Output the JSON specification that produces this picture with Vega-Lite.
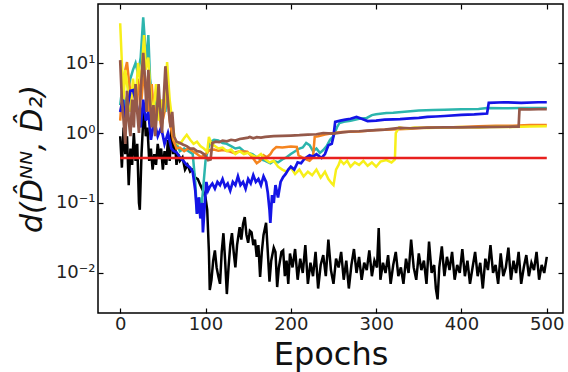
{
"$schema":"https://vega.github.io/schema/vega-lite/v6.json",
"width":465,"height":309,
"autosize":"none",
"padding":{"left":98,"top":4,"right":5,"bottom":59},
"config":{"view":{"stroke":"#000","strokeWidth":1.5},
"axis":{"domain":false,"grid":false,"tickColor":"#000","tickWidth":1.2,"tickSize":-5,"labelFont":"DejaVu Sans","labelFontSize":18,"labelColor":"#222","titleFont":"DejaVu Sans","titleFontWeight":"normal","titleColor":"#111"}},
"datasets":{"d":[
{"s":"r","e":0,"v":0.44},{"s":"r","e":500,"v":0.44},
{"s":"k","e":0,"v":0.9},{"s":"k","e":2,"v":0.32},{"s":"k","e":4,"v":1.2},{"s":"k","e":6,"v":0.5},{"s":"k","e":8,"v":0.9},{"s":"k","e":10,"v":0.18},{"s":"k","e":12,"v":0.6},{"s":"k","e":14,"v":0.35},{"s":"k","e":16,"v":1.0},{"s":"k","e":18,"v":0.4},{"s":"k","e":20,"v":0.7},{"s":"k","e":22,"v":0.1},{"s":"k","e":23,"v":0.08},{"s":"k","e":25,"v":0.5},{"s":"k","e":27,"v":1.5},{"s":"k","e":28,"v":2.6},{"s":"k","e":30,"v":0.9},{"s":"k","e":32,"v":1.2},{"s":"k","e":34,"v":0.4},{"s":"k","e":36,"v":0.6},{"s":"k","e":38,"v":0.3},{"s":"k","e":40,"v":0.5},{"s":"k","e":42,"v":0.35},{"s":"k","e":44,"v":0.7},{"s":"k","e":46,"v":0.45},{"s":"k","e":48,"v":0.6},{"s":"k","e":50,"v":0.3},{"s":"k","e":52,"v":0.55},{"s":"k","e":54,"v":0.35},{"s":"k","e":56,"v":0.8},{"s":"k","e":58,"v":0.4},{"s":"k","e":60,"v":1.2},{"s":"k","e":62,"v":0.5},{"s":"k","e":64,"v":0.8},{"s":"k","e":66,"v":0.35},{"s":"k","e":68,"v":0.5},{"s":"k","e":70,"v":0.4},{"s":"k","e":73,"v":0.45},{"s":"k","e":76,"v":0.3},{"s":"k","e":79,"v":0.35},{"s":"k","e":82,"v":0.28},{"s":"k","e":85,"v":0.3},{"s":"k","e":88,"v":0.23},{"s":"k","e":91,"v":0.22},{"s":"k","e":94,"v":0.18},{"s":"k","e":97,"v":0.15},{"s":"k","e":100,"v":0.12},{"s":"k","e":102,"v":0.08},{"s":"k","e":104,"v":0.02},{"s":"k","e":105,"v":0.0057},{"s":"k","e":107,"v":0.008},{"s":"k","e":109,"v":0.015},{"s":"k","e":111,"v":0.021},{"s":"k","e":113,"v":0.012},{"s":"k","e":115,"v":0.009},{"s":"k","e":117,"v":0.007},{"s":"k","e":119,"v":0.02},{"s":"k","e":121,"v":0.037},{"s":"k","e":123,"v":0.015},{"s":"k","e":125,"v":0.005},{"s":"k","e":127,"v":0.012},{"s":"k","e":129,"v":0.025},{"s":"k","e":131,"v":0.037},{"s":"k","e":133,"v":0.02},{"s":"k","e":135,"v":0.012},{"s":"k","e":137,"v":0.025},{"s":"k","e":140,"v":0.045},{"s":"k","e":142,"v":0.03},{"s":"k","e":144,"v":0.05},{"s":"k","e":146,"v":0.063},{"s":"k","e":148,"v":0.035},{"s":"k","e":150,"v":0.027},{"s":"k","e":152,"v":0.04},{"s":"k","e":154,"v":0.038},{"s":"k","e":156,"v":0.025},{"s":"k","e":158,"v":0.03},{"s":"k","e":160,"v":0.017},{"s":"k","e":162,"v":0.025},{"s":"k","e":164,"v":0.0088},{"s":"k","e":166,"v":0.02},{"s":"k","e":168,"v":0.035},{"s":"k","e":171,"v":0.052},{"s":"k","e":173,"v":0.02},{"s":"k","e":175,"v":0.0075},{"s":"k","e":177,"v":0.015},{"s":"k","e":180,"v":0.023},{"s":"k","e":182,"v":0.02},{"s":"k","e":184,"v":0.0063},{"s":"k","e":186,"v":0.012},{"s":"k","e":189,"v":0.02},{"s":"k","e":191,"v":0.021},{"s":"k","e":193,"v":0.009},{"s":"k","e":195,"v":0.015},{"s":"k","e":197,"v":0.007},{"s":"k","e":199,"v":0.019},{"s":"k","e":202,"v":0.012},{"s":"k","e":205,"v":0.022},{"s":"k","e":208,"v":0.008},{"s":"k","e":211,"v":0.016},{"s":"k","e":214,"v":0.01},{"s":"k","e":217,"v":0.025},{"s":"k","e":220,"v":0.007},{"s":"k","e":223,"v":0.014},{"s":"k","e":226,"v":0.009},{"s":"k","e":229,"v":0.02},{"s":"k","e":232,"v":0.006},{"s":"k","e":235,"v":0.013},{"s":"k","e":238,"v":0.018},{"s":"k","e":241,"v":0.009},{"s":"k","e":244,"v":0.03},{"s":"k","e":247,"v":0.011},{"s":"k","e":250,"v":0.007},{"s":"k","e":253,"v":0.016},{"s":"k","e":256,"v":0.012},{"s":"k","e":259,"v":0.02},{"s":"k","e":262,"v":0.008},{"s":"k","e":265,"v":0.015},{"s":"k","e":268,"v":0.006},{"s":"k","e":271,"v":0.013},{"s":"k","e":274,"v":0.022},{"s":"k","e":277,"v":0.01},{"s":"k","e":280,"v":0.017},{"s":"k","e":283,"v":0.008},{"s":"k","e":286,"v":0.014},{"s":"k","e":289,"v":0.011},{"s":"k","e":292,"v":0.021},{"s":"k","e":295,"v":0.009},{"s":"k","e":298,"v":0.015},{"s":"k","e":301,"v":0.012},{"s":"k","e":303,"v":0.044},{"s":"k","e":305,"v":0.008},{"s":"k","e":308,"v":0.014},{"s":"k","e":311,"v":0.01},{"s":"k","e":314,"v":0.018},{"s":"k","e":317,"v":0.007},{"s":"k","e":320,"v":0.013},{"s":"k","e":323,"v":0.02},{"s":"k","e":326,"v":0.009},{"s":"k","e":329,"v":0.012},{"s":"k","e":332,"v":0.007},{"s":"k","e":335,"v":0.016},{"s":"k","e":338,"v":0.01},{"s":"k","e":341,"v":0.03},{"s":"k","e":344,"v":0.012},{"s":"k","e":347,"v":0.008},{"s":"k","e":350,"v":0.019},{"s":"k","e":353,"v":0.011},{"s":"k","e":356,"v":0.015},{"s":"k","e":359,"v":0.007},{"s":"k","e":362,"v":0.028},{"s":"k","e":365,"v":0.01},{"s":"k","e":368,"v":0.013},{"s":"k","e":370,"v":0.006},{"s":"k","e":372,"v":0.0042},{"s":"k","e":374,"v":0.012},{"s":"k","e":377,"v":0.024},{"s":"k","e":380,"v":0.009},{"s":"k","e":383,"v":0.017},{"s":"k","e":386,"v":0.011},{"s":"k","e":389,"v":0.02},{"s":"k","e":392,"v":0.008},{"s":"k","e":395,"v":0.013},{"s":"k","e":398,"v":0.01},{"s":"k","e":401,"v":0.022},{"s":"k","e":404,"v":0.009},{"s":"k","e":407,"v":0.015},{"s":"k","e":410,"v":0.007},{"s":"k","e":413,"v":0.012},{"s":"k","e":416,"v":0.02},{"s":"k","e":419,"v":0.009},{"s":"k","e":422,"v":0.014},{"s":"k","e":425,"v":0.006},{"s":"k","e":428,"v":0.016},{"s":"k","e":431,"v":0.011},{"s":"k","e":434,"v":0.025},{"s":"k","e":437,"v":0.01},{"s":"k","e":440,"v":0.013},{"s":"k","e":443,"v":0.007},{"s":"k","e":446,"v":0.019},{"s":"k","e":449,"v":0.009},{"s":"k","e":452,"v":0.012},{"s":"k","e":455,"v":0.023},{"s":"k","e":458,"v":0.008},{"s":"k","e":461,"v":0.015},{"s":"k","e":464,"v":0.01},{"s":"k","e":467,"v":0.02},{"s":"k","e":470,"v":0.007},{"s":"k","e":473,"v":0.012},{"s":"k","e":476,"v":0.018},{"s":"k","e":479,"v":0.009},{"s":"k","e":482,"v":0.014},{"s":"k","e":485,"v":0.011},{"s":"k","e":488,"v":0.02},{"s":"k","e":491,"v":0.008},{"s":"k","e":494,"v":0.013},{"s":"k","e":497,"v":0.01},{"s":"k","e":500,"v":0.017},
{"s":"c","e":0,"v":2.5},{"s":"c","e":3,"v":5},{"s":"c","e":6,"v":2},{"s":"c","e":9,"v":4},{"s":"c","e":12,"v":6},{"s":"c","e":15,"v":8},{"s":"c","e":18,"v":10},{"s":"c","e":21,"v":7},{"s":"c","e":24,"v":12},{"s":"c","e":27,"v":45},{"s":"c","e":29,"v":20},{"s":"c","e":31,"v":10},{"s":"c","e":33,"v":25},{"s":"c","e":35,"v":6},{"s":"c","e":38,"v":3},{"s":"c","e":41,"v":2},{"s":"c","e":44,"v":4},{"s":"c","e":47,"v":1.5},{"s":"c","e":50,"v":3},{"s":"c","e":53,"v":2},{"s":"c","e":56,"v":5},{"s":"c","e":58,"v":2},{"s":"c","e":60,"v":1.5},{"s":"c","e":63,"v":0.8},{"s":"c","e":66,"v":0.7},{"s":"c","e":70,"v":0.55},{"s":"c","e":75,"v":0.6},{"s":"c","e":80,"v":0.55},{"s":"c","e":85,"v":0.5},{"s":"c","e":88,"v":0.2},{"s":"c","e":90,"v":0.07},{"s":"c","e":93,"v":0.12},{"s":"c","e":95,"v":0.08},{"s":"c","e":97,"v":0.15},{"s":"c","e":100,"v":0.4},{"s":"c","e":103,"v":0.6},{"s":"c","e":106,"v":0.75},{"s":"c","e":110,"v":0.8},{"s":"c","e":115,"v":0.78},{"s":"c","e":120,"v":0.72},{"s":"c","e":125,"v":0.7},{"s":"c","e":130,"v":0.65},{"s":"c","e":135,"v":0.6},{"s":"c","e":140,"v":0.62},{"s":"c","e":145,"v":0.55},{"s":"c","e":150,"v":0.52},{"s":"c","e":155,"v":0.5},{"s":"c","e":160,"v":0.45},{"s":"c","e":165,"v":0.42},{"s":"c","e":170,"v":0.4},{"s":"c","e":176,"v":0.37},{"s":"c","e":180,"v":0.4},{"s":"c","e":185,"v":0.38},{"s":"c","e":190,"v":0.42},{"s":"c","e":195,"v":0.45},{"s":"c","e":200,"v":0.5},{"s":"c","e":205,"v":0.55},{"s":"c","e":210,"v":0.6},{"s":"c","e":214,"v":0.62},{"s":"c","e":218,"v":0.72},{"s":"c","e":222,"v":0.67},{"s":"c","e":226,"v":0.55},{"s":"c","e":230,"v":0.6},{"s":"c","e":234,"v":0.52},{"s":"c","e":238,"v":0.57},{"s":"c","e":242,"v":0.65},{"s":"c","e":246,"v":0.8},{"s":"c","e":250,"v":0.9},{"s":"c","e":254,"v":1.2},{"s":"c","e":257,"v":1.39},{"s":"c","e":262,"v":1.45},{"s":"c","e":270,"v":1.5},{"s":"c","e":280,"v":1.6},{"s":"c","e":289,"v":1.64},{"s":"c","e":295,"v":1.8},{"s":"c","e":300,"v":1.85},{"s":"c","e":312,"v":1.93},{"s":"c","e":320,"v":1.95},{"s":"c","e":330,"v":2.0},{"s":"c","e":340,"v":2.05},{"s":"c","e":350,"v":2.1},{"s":"c","e":367,"v":2.13},{"s":"c","e":380,"v":2.15},{"s":"c","e":400,"v":2.18},{"s":"c","e":420,"v":2.2},{"s":"c","e":430,"v":2.27},{"s":"c","e":450,"v":2.25},{"s":"c","e":470,"v":2.28},{"s":"c","e":500,"v":2.27},
{"s":"o","e":0,"v":1.5},{"s":"o","e":3,"v":5},{"s":"o","e":6,"v":8},{"s":"o","e":8,"v":10.3},{"s":"o","e":10,"v":6},{"s":"o","e":13,"v":3},{"s":"o","e":16,"v":5},{"s":"o","e":19,"v":2},{"s":"o","e":22,"v":6},{"s":"o","e":25,"v":3},{"s":"o","e":28,"v":8},{"s":"o","e":31,"v":4},{"s":"o","e":34,"v":2},{"s":"o","e":37,"v":5},{"s":"o","e":40,"v":1.5},{"s":"o","e":44,"v":3},{"s":"o","e":48,"v":1.2},{"s":"o","e":52,"v":2},{"s":"o","e":55,"v":6},{"s":"o","e":58,"v":1.5},{"s":"o","e":62,"v":0.8},{"s":"o","e":66,"v":0.6},{"s":"o","e":70,"v":0.62},{"s":"o","e":75,"v":0.55},{"s":"o","e":80,"v":0.6},{"s":"o","e":85,"v":0.55},{"s":"o","e":90,"v":0.5},{"s":"o","e":95,"v":0.45},{"s":"o","e":100,"v":0.5},{"s":"o","e":105,"v":0.57},{"s":"o","e":110,"v":0.58},{"s":"o","e":115,"v":0.56},{"s":"o","e":121,"v":0.57},{"s":"o","e":127,"v":0.55},{"s":"o","e":133,"v":0.52},{"s":"o","e":140,"v":0.55},{"s":"o","e":149,"v":0.54},{"s":"o","e":155,"v":0.45},{"s":"o","e":160,"v":0.37},{"s":"o","e":164,"v":0.4},{"s":"o","e":168,"v":0.48},{"s":"o","e":172,"v":0.45},{"s":"o","e":176,"v":0.5},{"s":"o","e":179,"v":0.57},{"s":"o","e":183,"v":0.63},{"s":"o","e":190,"v":0.62},{"s":"o","e":200,"v":0.64},{"s":"o","e":207,"v":0.63},{"s":"o","e":209,"v":0.48},{"s":"o","e":213,"v":0.45},{"s":"o","e":218,"v":0.42},{"s":"o","e":222,"v":0.4},{"s":"o","e":226,"v":0.45},{"s":"o","e":228,"v":0.88},{"s":"o","e":232,"v":0.9},{"s":"o","e":240,"v":0.95},{"s":"o","e":250,"v":1.0},{"s":"o","e":260,"v":1.03},{"s":"o","e":280,"v":1.05},{"s":"o","e":300,"v":1.1},{"s":"o","e":320,"v":1.12},{"s":"o","e":340,"v":1.15},{"s":"o","e":360,"v":1.2},{"s":"o","e":380,"v":1.2},{"s":"o","e":400,"v":1.22},{"s":"o","e":420,"v":1.25},{"s":"o","e":440,"v":1.27},{"s":"o","e":460,"v":1.27},{"s":"o","e":480,"v":1.3},{"s":"o","e":500,"v":1.3},
{"s":"y","e":0,"v":37},{"s":"y","e":2,"v":10},{"s":"y","e":4,"v":3},{"s":"y","e":6,"v":8},{"s":"y","e":9,"v":4},{"s":"y","e":12,"v":2},{"s":"y","e":15,"v":6},{"s":"y","e":18,"v":3},{"s":"y","e":21,"v":10},{"s":"y","e":24,"v":5},{"s":"y","e":28,"v":25},{"s":"y","e":30,"v":8},{"s":"y","e":33,"v":12},{"s":"y","e":36,"v":3},{"s":"y","e":39,"v":2},{"s":"y","e":42,"v":5},{"s":"y","e":45,"v":1.5},{"s":"y","e":48,"v":3},{"s":"y","e":51,"v":2},{"s":"y","e":55,"v":10.3},{"s":"y","e":58,"v":3},{"s":"y","e":61,"v":1.5},{"s":"y","e":64,"v":0.8},{"s":"y","e":68,"v":0.7},{"s":"y","e":72,"v":0.75},{"s":"y","e":75,"v":0.85},{"s":"y","e":78,"v":0.94},{"s":"y","e":82,"v":0.8},{"s":"y","e":86,"v":0.7},{"s":"y","e":90,"v":0.75},{"s":"y","e":94,"v":0.65},{"s":"y","e":98,"v":0.6},{"s":"y","e":102,"v":0.54},{"s":"y","e":104,"v":0.88},{"s":"y","e":107,"v":0.7},{"s":"y","e":111,"v":0.65},{"s":"y","e":115,"v":0.6},{"s":"y","e":120,"v":0.62},{"s":"y","e":125,"v":0.55},{"s":"y","e":130,"v":0.58},{"s":"y","e":135,"v":0.5},{"s":"y","e":140,"v":0.55},{"s":"y","e":145,"v":0.5},{"s":"y","e":150,"v":0.52},{"s":"y","e":155,"v":0.48},{"s":"y","e":160,"v":0.45},{"s":"y","e":165,"v":0.5},{"s":"y","e":170,"v":0.42},{"s":"y","e":175,"v":0.38},{"s":"y","e":180,"v":0.4},{"s":"y","e":185,"v":0.33},{"s":"y","e":190,"v":0.3},{"s":"y","e":195,"v":0.28},{"s":"y","e":200,"v":0.32},{"s":"y","e":205,"v":0.26},{"s":"y","e":210,"v":0.3},{"s":"y","e":215,"v":0.24},{"s":"y","e":220,"v":0.28},{"s":"y","e":225,"v":0.25},{"s":"y","e":230,"v":0.3},{"s":"y","e":235,"v":0.23},{"s":"y","e":240,"v":0.28},{"s":"y","e":244,"v":0.22},{"s":"y","e":248,"v":0.19},{"s":"y","e":250,"v":0.18},{"s":"y","e":253,"v":0.3},{"s":"y","e":256,"v":0.35},{"s":"y","e":258,"v":0.41},{"s":"y","e":262,"v":0.36},{"s":"y","e":266,"v":0.4},{"s":"y","e":270,"v":0.33},{"s":"y","e":275,"v":0.38},{"s":"y","e":280,"v":0.35},{"s":"y","e":285,"v":0.4},{"s":"y","e":290,"v":0.34},{"s":"y","e":295,"v":0.38},{"s":"y","e":300,"v":0.33},{"s":"y","e":305,"v":0.39},{"s":"y","e":312,"v":0.41},{"s":"y","e":318,"v":0.38},{"s":"y","e":322,"v":0.42},{"s":"y","e":323,"v":1.0},{"s":"y","e":327,"v":1.2},{"s":"y","e":335,"v":1.15},{"s":"y","e":345,"v":1.2},{"s":"y","e":360,"v":1.18},{"s":"y","e":380,"v":1.2},{"s":"y","e":400,"v":1.22},{"s":"y","e":420,"v":1.2},{"s":"y","e":440,"v":1.23},{"s":"y","e":460,"v":1.22},{"s":"y","e":480,"v":1.24},{"s":"y","e":500,"v":1.25},
{"s":"b","e":0,"v":2},{"s":"b","e":3,"v":3},{"s":"b","e":6,"v":1.5},{"s":"b","e":9,"v":2.5},{"s":"b","e":12,"v":4},{"s":"b","e":15,"v":4.1},{"s":"b","e":18,"v":3},{"s":"b","e":21,"v":2},{"s":"b","e":24,"v":1.2},{"s":"b","e":27,"v":3},{"s":"b","e":30,"v":1.5},{"s":"b","e":33,"v":2},{"s":"b","e":36,"v":0.8},{"s":"b","e":40,"v":1.5},{"s":"b","e":44,"v":0.9},{"s":"b","e":48,"v":1.2},{"s":"b","e":52,"v":0.7},{"s":"b","e":56,"v":1.0},{"s":"b","e":60,"v":0.6},{"s":"b","e":63,"v":0.55},{"s":"b","e":66,"v":0.53},{"s":"b","e":70,"v":0.45},{"s":"b","e":74,"v":0.4},{"s":"b","e":78,"v":0.35},{"s":"b","e":82,"v":0.32},{"s":"b","e":85,"v":0.28},{"s":"b","e":88,"v":0.15},{"s":"b","e":90,"v":0.07},{"s":"b","e":92,"v":0.12},{"s":"b","e":94,"v":0.06},{"s":"b","e":96,"v":0.1},{"s":"b","e":97,"v":0.038},{"s":"b","e":99,"v":0.09},{"s":"b","e":101,"v":0.2},{"s":"b","e":103,"v":0.15},{"s":"b","e":105,"v":0.17},{"s":"b","e":108,"v":0.19},{"s":"b","e":111,"v":0.16},{"s":"b","e":114,"v":0.2},{"s":"b","e":117,"v":0.18},{"s":"b","e":120,"v":0.22},{"s":"b","e":123,"v":0.17},{"s":"b","e":126,"v":0.19},{"s":"b","e":129,"v":0.15},{"s":"b","e":132,"v":0.2},{"s":"b","e":135,"v":0.18},{"s":"b","e":138,"v":0.24},{"s":"b","e":141,"v":0.18},{"s":"b","e":144,"v":0.2},{"s":"b","e":147,"v":0.16},{"s":"b","e":150,"v":0.22},{"s":"b","e":153,"v":0.19},{"s":"b","e":156,"v":0.25},{"s":"b","e":159,"v":0.2},{"s":"b","e":162,"v":0.22},{"s":"b","e":165,"v":0.18},{"s":"b","e":168,"v":0.24},{"s":"b","e":171,"v":0.2},{"s":"b","e":173,"v":0.14},{"s":"b","e":175,"v":0.08},{"s":"b","e":176,"v":0.052},{"s":"b","e":178,"v":0.13},{"s":"b","e":180,"v":0.1},{"s":"b","e":182,"v":0.18},{"s":"b","e":185,"v":0.12},{"s":"b","e":188,"v":0.2},{"s":"b","e":191,"v":0.235},{"s":"b","e":194,"v":0.26},{"s":"b","e":197,"v":0.3},{"s":"b","e":200,"v":0.33},{"s":"b","e":204,"v":0.3},{"s":"b","e":208,"v":0.38},{"s":"b","e":212,"v":0.37},{"s":"b","e":216,"v":0.43},{"s":"b","e":222,"v":0.48},{"s":"b","e":226,"v":0.46},{"s":"b","e":230,"v":0.5},{"s":"b","e":236,"v":0.44},{"s":"b","e":240,"v":0.5},{"s":"b","e":244,"v":0.67},{"s":"b","e":248,"v":0.7},{"s":"b","e":250,"v":0.9},{"s":"b","e":252,"v":1.44},{"s":"b","e":258,"v":1.5},{"s":"b","e":264,"v":1.55},{"s":"b","e":270,"v":1.6},{"s":"b","e":277,"v":1.7},{"s":"b","e":283,"v":1.6},{"s":"b","e":290,"v":1.48},{"s":"b","e":300,"v":1.5},{"s":"b","e":310,"v":1.55},{"s":"b","e":320,"v":1.57},{"s":"b","e":328,"v":1.58},{"s":"b","e":340,"v":1.62},{"s":"b","e":350,"v":1.65},{"s":"b","e":360,"v":1.7},{"s":"b","e":370,"v":1.72},{"s":"b","e":380,"v":1.75},{"s":"b","e":400,"v":1.82},{"s":"b","e":415,"v":1.85},{"s":"b","e":430,"v":1.9},{"s":"b","e":432,"v":2.7},{"s":"b","e":450,"v":2.75},{"s":"b","e":470,"v":2.7},{"s":"b","e":490,"v":2.75},{"s":"b","e":500,"v":2.75},
{"s":"n","e":0,"v":11},{"s":"n","e":2,"v":3},{"s":"n","e":4,"v":1.5},{"s":"n","e":6,"v":0.7},{"s":"n","e":8,"v":4},{"s":"n","e":10,"v":1.5},{"s":"n","e":12,"v":0.9},{"s":"n","e":14,"v":3},{"s":"n","e":16,"v":1.2},{"s":"n","e":18,"v":5},{"s":"n","e":20,"v":2},{"s":"n","e":22,"v":1},{"s":"n","e":24,"v":4},{"s":"n","e":27,"v":14},{"s":"n","e":29,"v":6},{"s":"n","e":31,"v":2},{"s":"n","e":33,"v":8},{"s":"n","e":35,"v":3},{"s":"n","e":37,"v":1.2},{"s":"n","e":39,"v":2.5},{"s":"n","e":41,"v":0.9},{"s":"n","e":43,"v":2},{"s":"n","e":45,"v":5},{"s":"n","e":47,"v":2},{"s":"n","e":49,"v":1},{"s":"n","e":51,"v":3},{"s":"n","e":53,"v":9},{"s":"n","e":55,"v":4},{"s":"n","e":57,"v":2},{"s":"n","e":59,"v":1.2},{"s":"n","e":61,"v":2},{"s":"n","e":63,"v":0.9},{"s":"n","e":66,"v":0.75},{"s":"n","e":70,"v":0.72},{"s":"n","e":74,"v":0.68},{"s":"n","e":78,"v":0.65},{"s":"n","e":82,"v":0.6},{"s":"n","e":86,"v":0.6},{"s":"n","e":90,"v":0.55},{"s":"n","e":94,"v":0.54},{"s":"n","e":98,"v":0.5},{"s":"n","e":101,"v":0.45},{"s":"n","e":103,"v":0.41},{"s":"n","e":106,"v":0.42},{"s":"n","e":108,"v":0.72},{"s":"n","e":112,"v":0.75},{"s":"n","e":116,"v":0.74},{"s":"n","e":120,"v":0.78},{"s":"n","e":125,"v":0.76},{"s":"n","e":130,"v":0.8},{"s":"n","e":135,"v":0.78},{"s":"n","e":140,"v":0.82},{"s":"n","e":145,"v":0.84},{"s":"n","e":150,"v":0.86},{"s":"n","e":152,"v":0.88},{"s":"n","e":156,"v":0.84},{"s":"n","e":160,"v":0.87},{"s":"n","e":165,"v":0.86},{"s":"n","e":170,"v":0.88},{"s":"n","e":180,"v":0.9},{"s":"n","e":190,"v":0.91},{"s":"n","e":200,"v":0.92},{"s":"n","e":210,"v":0.93},{"s":"n","e":220,"v":0.95},{"s":"n","e":230,"v":0.96},{"s":"n","e":238,"v":1.0},{"s":"n","e":250,"v":0.98},{"s":"n","e":260,"v":1.02},{"s":"n","e":270,"v":1.05},{"s":"n","e":280,"v":1.06},{"s":"n","e":290,"v":1.08},{"s":"n","e":300,"v":1.1},{"s":"n","e":310,"v":1.12},{"s":"n","e":328,"v":1.18},{"s":"n","e":340,"v":1.17},{"s":"n","e":360,"v":1.19},{"s":"n","e":380,"v":1.2},{"s":"n","e":400,"v":1.2},{"s":"n","e":420,"v":1.21},{"s":"n","e":440,"v":1.22},{"s":"n","e":460,"v":1.23},{"s":"n","e":467,"v":1.23},{"s":"n","e":468,"v":2.2},{"s":"n","e":480,"v":2.18},{"s":"n","e":490,"v":2.2},{"s":"n","e":500,"v":2.2}
]},
"data":{"name":"d"},
"encoding":{
"x":{"field":"e","type":"quantitative","scale":{"domain":[-26,519],"nice":false,"zero":false},"axis":null},
"y":{"field":"v","type":"quantitative","scale":{"type":"log","domain":[0.00268,69.7],"nice":false},"axis":null}
},
"layer":[
{"transform":[{"filter":"datum.s=='k'"}],"mark":{"type":"line","color":"#000000","strokeWidth":2.5},
"encoding":{
"x":{"field":"e","type":"quantitative","axis":{"orient":"bottom","values":[0,100,200,300,400,500],"labelPadding":7,"title":"Epochs","titleFontSize":32,"titlePadding":6}},
"y":{"field":"v","type":"quantitative","axis":{"orient":"left","values":[0.01,0.1,1,10],"labelPadding":8,"labelExpr":"datum.value==10?'10¹':datum.value==1?'10⁰':datum.value==0.1?'10⁻¹':'10⁻²'","title":"d(D\u0302\u1d3a\u1d3a, D\u0302\u2082)","titleFontSize":30,"titleFontStyle":"italic","titlePadding":8}}}},
{"transform":[{"filter":"datum.s=='c'"}],"mark":{"type":"line","color":"#2cb5ad","strokeWidth":2.5}},
{"transform":[{"filter":"datum.s=='o'"}],"mark":{"type":"line","color":"#f5841f","strokeWidth":2.5}},
{"transform":[{"filter":"datum.s=='y'"}],"mark":{"type":"line","color":"#f7ef1a","strokeWidth":2.5}},
{"transform":[{"filter":"datum.s=='b'"}],"mark":{"type":"line","color":"#1414e6","strokeWidth":2.7}},
{"transform":[{"filter":"datum.s=='n'"}],"mark":{"type":"line","color":"#95594a","strokeWidth":2.7}},
{"transform":[{"filter":"datum.s=='r'"}],"mark":{"type":"line","color":"#e8201e","strokeWidth":2.5},
"encoding":{
"x":{"field":"e","type":"quantitative","axis":{"orient":"top","values":[0,100,200,300,400,500],"labels":false,"title":null}},
"y":{"field":"v","type":"quantitative","axis":{"orient":"right","values":[0.01,0.1,1,10],"labels":false,"title":null}}}}
]
}
